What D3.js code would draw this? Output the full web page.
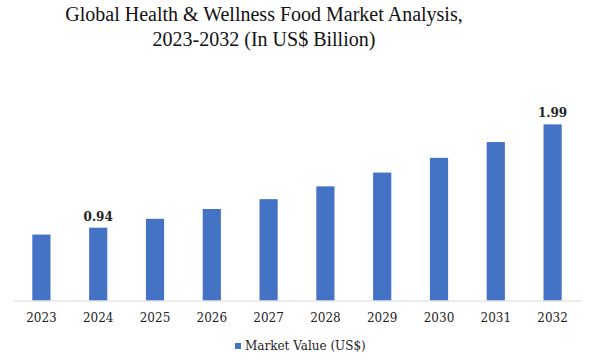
<html>
<head>
    <title>Global Health & Wellness Food Market Analysis</title>
    <script src="https://d3js.org/d3.v7.min.js"></script>
    <style>
        body { margin: 0; background: #fff; }
        .title { font-family: "Liberation Serif", "DejaVu Serif", serif; font-size: 20px; fill: #111; }
        .tick text { font-family: "DejaVu Serif", "Liberation Serif", serif; font-size: 12px; fill: #222; }
        .valueLabel { font-family: "DejaVu Serif", "Liberation Serif", serif; font-size: 12px; font-weight: bold; fill: #222; }
        .legendText { font-family: "DejaVu Serif", "Liberation Serif", serif; font-size: 12px; fill: #222; }
    </style>
</head>
<body>
    <svg width="589" height="363"></svg>

    <script>
        // data
        const years = ["2023", "2024", "2025", "2026", "2027", "2028", "2029", "2030", "2031", "2032"];
        const marketValue = [0.87, 0.94, 1.03, 1.13, 1.23, 1.36, 1.50, 1.65, 1.81, 1.99];
        const labelledYears = ["2024", "2032"];
        const titleLines = ["Global Health & Wellness Food Market Analysis,", "2023-2032 (In US$ Billion)"];
        const seriesName = "Market Value (US$)";

        const barColor = "#4472C4";
        const svg = d3.select('svg');

        const x = d3.scaleBand()
            .domain(years)
            .range([13, 581])
            .paddingInner(0.68)
            .paddingOuter(0.34);

        const y = d3.scaleLinear()
            .domain([0.2, 2.2])
            .range([300.5, 103.7]);

        // title
        svg.selectAll('.title')
            .data(titleLines)
            .enter().append('text')
            .attr('class', 'title')
            .attr('x', 264)
            .attr('y', (d, i) => 21 + i * 25)
            .attr('text-anchor', 'middle')
            .text(d => d);

        // bars
        svg.append('g')
            .selectAll('rect')
            .data(years)
            .enter().append('rect')
            .attr('x', d => x(d))
            .attr('width', x.bandwidth())
            .attr('y', (d, i) => y(marketValue[i]))
            .attr('height', (d, i) => y.range()[0] - y(marketValue[i]))
            .attr('fill', barColor);

        // x axis
        const xAxisG = svg.append('g')
            .attr('transform', `translate(0,${y.range()[0]})`)
            .call(d3.axisBottom(x).tickSize(0).tickPadding(13));
        xAxisG.select('.domain')
            .attr('stroke', '#d9d9d9')
            .attr('stroke-width', 1.2);

        // value labels on first and last highlighted bars
        svg.append('g')
            .selectAll('text')
            .data(years.filter(d => labelledYears.includes(d)))
            .enter().append('text')
            .attr('class', 'valueLabel')
            .attr('x', d => x(d) + x.bandwidth() / 2)
            .attr('y', d => y(marketValue[years.indexOf(d)]) - 7)
            .attr('text-anchor', 'middle')
            .text(d => marketValue[years.indexOf(d)].toFixed(2));

        // legend
        const legendG = svg.append('g')
            .attr('transform', 'translate(235,343)');
        legendG.append('rect')
            .attr('width', 6)
            .attr('height', 6)
            .attr('fill', barColor);
        legendG.append('text')
            .attr('class', 'legendText')
            .attr('x', 10)
            .attr('y', 7)
            .text(seriesName);
    </script>
</body>
</html>
